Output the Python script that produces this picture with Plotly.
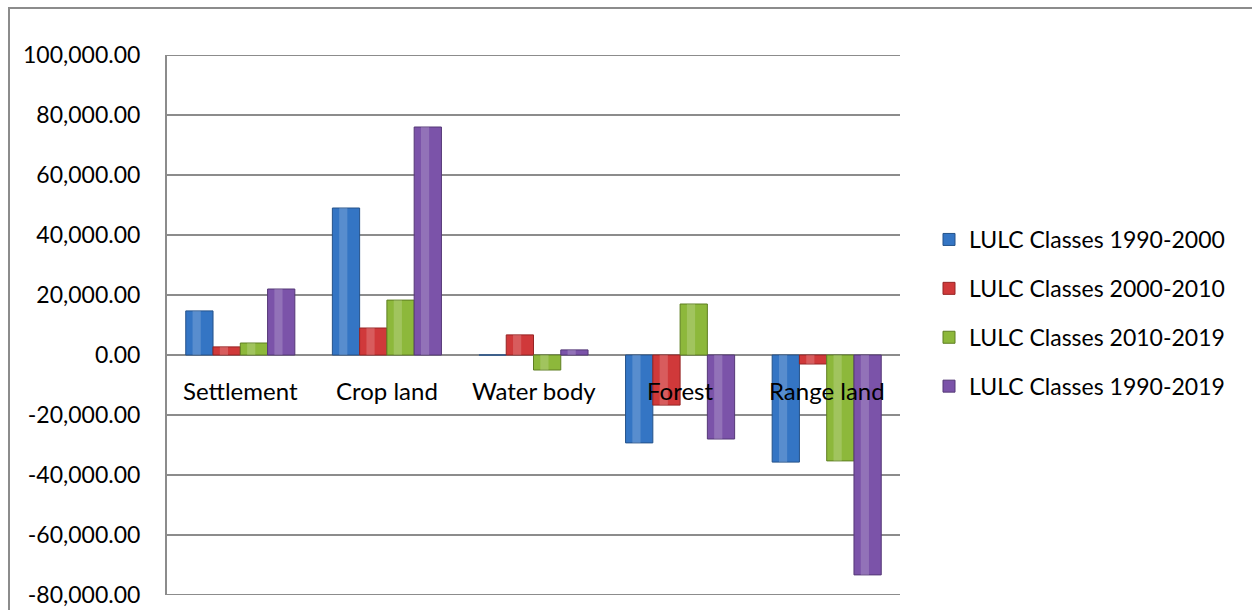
import plotly.graph_objects as go

categories = ["Settlement", "Crop land", "Water body", "Forest", "Range land"]
series_names = ["LULC Classes 1990-2000", "LULC Classes 2000-2010",
                "LULC Classes 2010-2019", "LULC Classes 1990-2019"]
v_1990_2000 = [14700, 49000, 0, -29300, -35700]
v_2000_2010 = [2700, 9000, 6700, -16700, -3000]
v_2010_2019 = [4000, 18300, -5000, 17000, -35300]
v_1990_2019 = [22000, 76000, 1700, -28000, -73300]
y_ticks = [-80000, -60000, -40000, -20000, 0, 20000, 40000, 60000, 80000, 100000]
y_tick_labels = ["-80,000.00", "-60,000.00", "-40,000.00", "-20,000.00", "0.00",
                 "20,000.00", "40,000.00", "60,000.00", "80,000.00", "100,000.00"]

series = [v_1990_2000, v_2000_2010, v_2010_2019, v_1990_2019]
colors = ["#3475C4", "#D0393A", "#8DB83B", "#7B53A9"]
edges = ["#24528A", "#962424", "#5F7F22", "#553877"]

W, H = 1252, 610
L, R, T, B = 167, 900, 55, 595
pw, ph = R - L, B - T

bw = 0.186
offsets = [-2 * bw, -bw, 0, bw]

fig = go.Figure()
for i, (name, vals) in enumerate(zip(series_names, series)):
    fig.add_trace(go.Bar(
        x=categories, y=vals, name=name,
        width=bw, offset=offsets[i],
        marker=dict(color=colors[i], line=dict(color=edges[i], width=1)),
        legendgroup=f"g{i}",
    ))
for i, vals in enumerate(series):
    fig.add_trace(go.Bar(
        x=categories, y=vals, showlegend=False, hoverinfo="skip",
        width=bw * 0.3, offset=offsets[i] + bw * 0.25,
        marker=dict(color="rgba(255,255,255,0.18)", line=dict(width=0)),
    ))

for c in categories:
    fig.add_annotation(x=c, y=0, xref="x", yref="y", text=c, showarrow=False,
                       yanchor="top", yshift=-19,
                       font=dict(family="Lato", size=24, color="#000000"))

# gridlines at the range edges
for yv in (y_ticks[0], y_ticks[-1]):
    fig.add_shape(type="line", xref="paper", yref="y", x0=0, x1=1, y0=yv, y1=yv,
                  line=dict(color="#8C8C8C", width=2), layer="below")

fig.add_shape(type="rect", xref="paper", yref="paper",
              x0=(9 - L) / pw, x1=(1270 - L) / pw,
              y0=(B - 660) / ph, y1=(B - 8) / ph,
              line=dict(color="#8C8C8C", width=2), fillcolor="rgba(0,0,0,0)",
              layer="below")

fig.update_layout(
    width=W, height=H,
    margin=dict(l=L, r=W - R, t=T, b=H - B, pad=0, autoexpand=False),
    paper_bgcolor="white", plot_bgcolor="white",
    barmode="overlay",
    font=dict(family="Lato", size=23, color="#000000"),
    showlegend=True,
    legend=dict(x=(929 - L) / pw, xanchor="left", y=(B - 218) / ph, yanchor="top",
                font=dict(family="Lato", size=23), tracegroupgap=16,
                bgcolor="rgba(0,0,0,0)", itemwidth=30),
    xaxis=dict(showticklabels=False, showgrid=False, zeroline=False,
               showline=False, range=[-0.5, 4.5], automargin=False),
    yaxis=dict(range=[-80000, 100000], tickvals=y_ticks, ticktext=y_tick_labels,
               showgrid=True, gridcolor="#8C8C8C", gridwidth=2,
               zeroline=True, zerolinecolor="#8C8C8C", zerolinewidth=2,
               showline=True, linecolor="#8C8C8C", linewidth=2,
               ticks="", ticklabelstandoff=20, automargin=False,
               tickfont=dict(family="Lato", size=23)),
)

fig.write_html("out.html")
